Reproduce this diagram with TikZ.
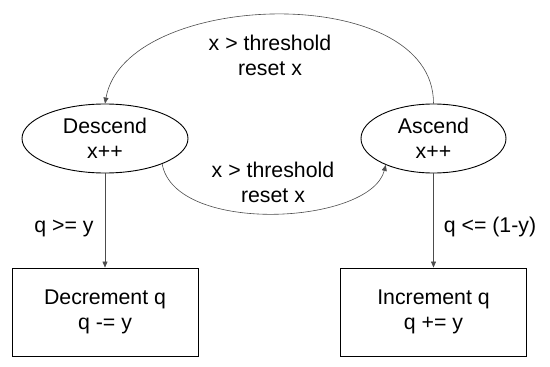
\documentclass[tikz,border=0pt]{standalone}
\usepackage{fontspec}
\setmainfont{Liberation Sans}
\usetikzlibrary{shapes.geometric,arrows.meta}
\begin{document}
\begin{tikzpicture}[x=1pt,y=-1pt,
  lbl/.style={font=\fontsize{21.3}{25}\selectfont, align=center, inner sep=0pt},
  state/.style={lbl, ellipse, draw=black, line width=0.9pt, minimum height=69pt},
  actbox/.style={lbl, rectangle, draw=black, line width=0.9pt, minimum width=186pt, minimum height=88pt},
  conn/.style={draw=black!70, line width=0.6pt, -{Triangle[length=6pt,width=5pt]}}
]
\useasboundingbox (0,0) rectangle (550,367);
\node[state, minimum width=166pt] (desc) at (105,138.5) {Descend\\x++};
\node[state, minimum width=145pt] (asc) at (433.5,138.5) {Ascend\\x++};
\node[actbox] (dec) at (105,312) {Decrement q\\q -= y};
\node[actbox] (inc) at (433.5,312) {Increment q\\q += y};

\draw[conn] (asc.north) .. controls (434,-20) and (125,-10) .. (desc.north);
\draw[conn] (desc.-24.6) .. controls (175,235) and (370,225) .. (asc.209.4);
\draw[conn] (desc.south) -- (dec.north);
\draw[conn] (asc.south) -- (inc.north);

\node[lbl] (toplbl) at (270,55) {x > threshold\\reset x};
\node[lbl] (midlbl) at (273,182) {x > threshold\\reset x};
\node[lbl, anchor=base] (leftlbl) at (64,232) {q >= y};
\node[lbl, anchor=base] (rightlbl) at (490,232) {q <= (1-y)};
\end{tikzpicture}
\end{document}
